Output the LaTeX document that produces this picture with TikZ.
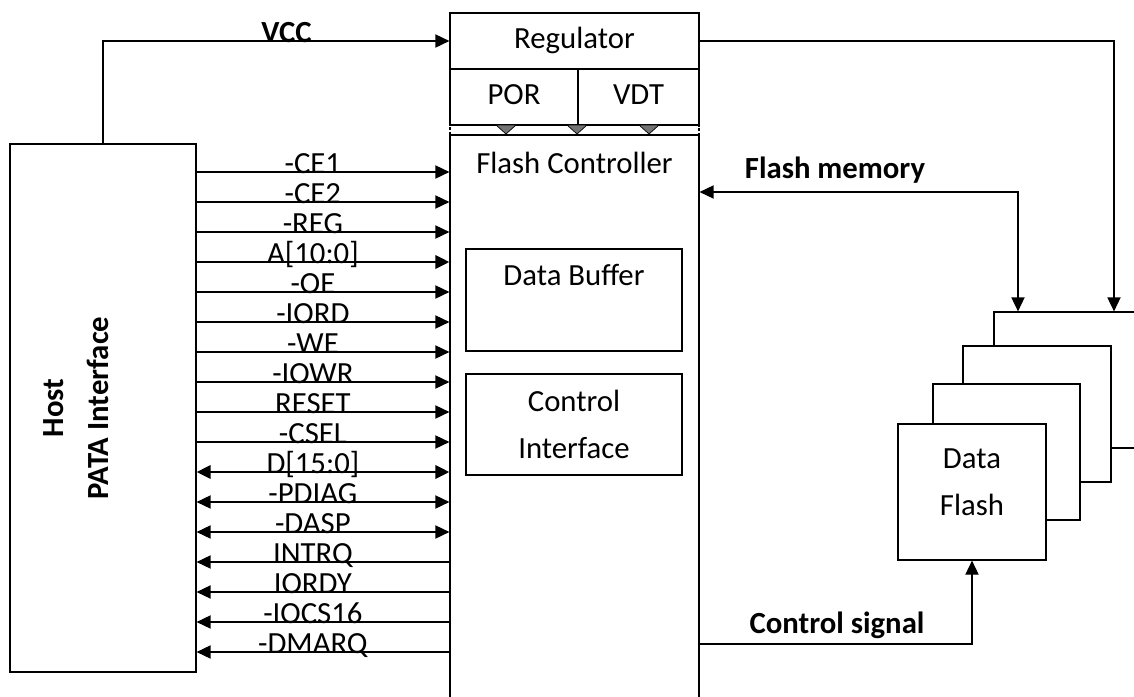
\documentclass[tikz,border=0pt]{standalone}
\usepackage{fontspec}
\setmainfont{Carlito}
\usetikzlibrary{arrows.meta}
\tikzset{
	blk/.style={draw, line width=0.7pt, inner sep=0pt, fill=white},
	txt/.style={inner sep=0pt, font=\fontsize{17.5}{27}\selectfont},
	btxt/.style={inner sep=0pt, font=\fontsize{17.5}{26}\selectfont\bfseries},
	onebox/.style={blk, txt, text height=12.25pt, text depth=3.5pt},
	sgl/.style={txt, anchor=base},
	bsgl/.style={btxt, anchor=base},
	sig/.style={sgl, pos=0.46, yshift=-1.1pt},
	wire/.style={line width=0.75pt},
	bus/.style={line width=1.6pt},
	notch/.style={fill=black!55, draw=black, line width=0.4pt},
	regbound/.style={line width=1.5pt, dash pattern=on 1.6pt off 1.1pt}
}

\begin{document}
\begin{tikzpicture}[x=0.02cm, y=-0.02cm, >={Triangle[length=8pt,width=7.5pt]}]
			%%%%% START %%%%%
			\useasboundingbox (0,0) rectangle (1134,697);
			
			\node[blk, minimum width=3.72cm, minimum height=10.56cm] (host) at (103,408) {};
			\node[btxt, rotate=90, align=center] (hostname) at (76,408) {Host\\PATA Interface};
			
			\node[blk, minimum width=4.98cm, minimum height=11.5cm] (ctrl) at (574.5,422.5) {};
			\node[sgl] (ctrlname) at (574.5,173) {Flash Controller};
			\node[blk, minimum width=4.32cm, minimum height=2.04cm] (dbuf) at (574,300) {};
			\node[sgl] (dbufname) at (574,285) {Data Buffer};
			\node[blk, txt, align=center, minimum width=4.32cm, minimum height=2.02cm] (cif) at (574,424.5) {Control\\Interface};
			
			\node[onebox, minimum width=4.98cm, minimum height=1.12cm] (reg) at (574.5,41) {Regulator};
			\node[onebox, minimum width=2.56cm, minimum height=1.12cm] (por) at (514,97) {POR};
			\node[onebox, minimum width=2.42cm, minimum height=1.12cm] (vdt) at (638.5,97) {VDT};
			
			\filldraw[notch] (496,125) -- (516,125) -- (506,134) -- cycle;
			\filldraw[notch] (567,125) -- (587,125) -- (577,134) -- cycle;
			\filldraw[notch] (639,125) -- (659,125) -- (649,134) -- cycle;
			\draw[regbound] (450,13) rectangle (699,135);
			
			\node[blk, minimum width=3.12cm, minimum height=2.72cm] (fl3) at (1072,380) {};
			\node[blk, minimum width=2.96cm, minimum height=2.72cm] (fl2) at (1037,414) {};
			\node[blk, minimum width=2.94cm, minimum height=2.72cm] (fl1) at (1006.5,452) {};
			\node[blk, minimum width=2.96cm, minimum height=2.72cm] (fl0) at (972,492) {};
			\node[txt, align=center] (flname) at (972,482) {Data\\Flash};
			
			\draw[wire,->] (host.north) |- node[bsgl, pos=0.765, yshift=-1.1pt] {VCC} (reg.west);
			\draw[wire,->] (reg.east) -| (fl3.north -| 1114,0);
			\draw[wire,<->] (ctrl.east |- 0,192) -| (fl3.north -| 1018,0);
			\node[bsgl] (memlabel) at (835,178) {Flash memory};
			\draw[wire,->] (ctrl.east |- 0,644) -| (fl0.south);
			\node[bsgl] (ctllabel) at (837,633) {Control signal};
			
			\draw[wire,->] (host.east |- 0,172) -- node[sig] {-CE1} (ctrl.west |- 0,172);
			\draw[wire,->] (host.east |- 0,202) -- node[sig] {-CE2} (ctrl.west |- 0,202);
			\draw[wire,->] (host.east |- 0,232) -- node[sig] {-REG} (ctrl.west |- 0,232);
			\draw[bus,->] (host.east |- 0,262) -- node[sig] {A[10:0]} (ctrl.west |- 0,262);
			\draw[wire,->] (host.east |- 0,292) -- node[sig] {-OE} (ctrl.west |- 0,292);
			\draw[wire,->] (host.east |- 0,322) -- node[sig] {-IORD} (ctrl.west |- 0,322);
			\draw[wire,->] (host.east |- 0,352) -- node[sig] {-WE} (ctrl.west |- 0,352);
			\draw[wire,->] (host.east |- 0,382) -- node[sig] {-IOWR} (ctrl.west |- 0,382);
			\draw[wire,->] (host.east |- 0,412) -- node[sig] {RESET} (ctrl.west |- 0,412);
			\draw[wire,->] (host.east |- 0,442) -- node[sig] {-CSEL} (ctrl.west |- 0,442);
			\draw[bus,<->] (host.east |- 0,472) -- node[sig] {D[15:0]} (ctrl.west |- 0,472);
			\draw[wire,<->] (host.east |- 0,502) -- node[sig] {-PDIAG} (ctrl.west |- 0,502);
			\draw[wire,<->] (host.east |- 0,532) -- node[sig] {-DASP} (ctrl.west |- 0,532);
			\draw[wire,<-] (host.east |- 0,562) -- node[sig] {INTRQ} (ctrl.west |- 0,562);
			\draw[wire,<-] (host.east |- 0,592) -- node[sig] {IORDY} (ctrl.west |- 0,592);
			\draw[wire,<-] (host.east |- 0,622) -- node[sig] {-IOCS16} (ctrl.west |- 0,622);
			\draw[wire,<-] (host.east |- 0,652) -- node[sig] {-DMARQ} (ctrl.west |- 0,652);
			
			%%%%% END %%%%%
\end{tikzpicture}
\end{document}
